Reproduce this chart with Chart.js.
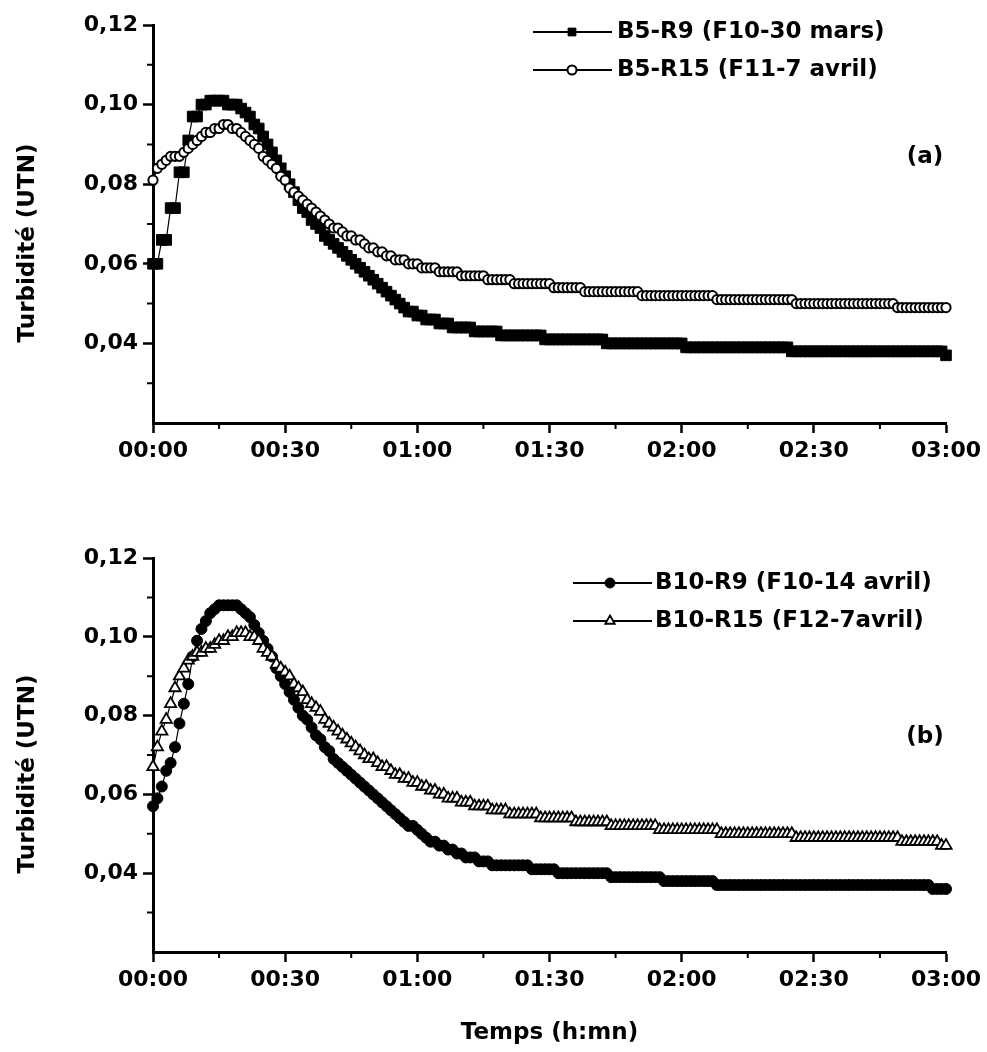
<!DOCTYPE html>
<html>
<head>
<meta charset="utf-8">
<script src="https://cdn.jsdelivr.net/npm/chart.js@4.4.1/dist/chart.umd.min.js"></script>
<style>
html,body{margin:0;padding:0;background:#fff;}
#wrap{position:relative;width:987px;height:1052px;background:#fff;overflow:hidden;}
.panel{position:absolute;left:0;width:987px;}
canvas{display:block;}
</style>
</head>
<body>
<div id="wrap">
  <div class="panel" style="top:0;height:500px"><canvas id="chartA" width="987" height="500"></canvas></div>
  <div class="panel" style="top:510px;height:542px"><canvas id="chartB" width="987" height="542"></canvas></div>
</div>
<script>
// ---------- data (time in minutes, turbidity in UTN) ----------
const timeMinutes = [
  0,1,2,3,4,5,6,7,8,9,
  10,11,12,13,14,15,16,17,18,19,
  20,21,22,23,24,25,26,27,28,29,
  30,31,32,33,34,35,36,37,38,39,
  40,41,42,43,44,45,46,47,48,49,
  50,51,52,53,54,55,56,57,58,59,
  60,61,62,63,64,65,66,67,68,69,
  70,71,72,73,74,75,76,77,78,79,
  80,81,82,83,84,85,86,87,88,89,
  90,91,92,93,94,95,96,97,98,99,
  100,101,102,103,104,105,106,107,108,109,
  110,111,112,113,114,115,116,117,118,119,
  120,121,122,123,124,125,126,127,128,129,
  130,131,132,133,134,135,136,137,138,139,
  140,141,142,143,144,145,146,147,148,149,
  150,151,152,153,154,155,156,157,158,159,
  160,161,162,163,164,165,166,167,168,169,
  170,171,172,173,174,175,176,177,178,179,
  180
];

const turbB5R9 = [
  0.060,0.060,0.066,0.066,0.074,0.074,0.083,0.083,0.091,0.097,
  0.097,0.100,0.100,0.101,0.101,0.101,0.101,0.100,0.100,0.100,
  0.099,0.098,0.097,0.095,0.094,0.092,0.090,0.088,0.086,0.084,
  0.082,0.080,0.078,0.076,0.074,0.073,0.071,0.070,0.069,0.067,
  0.066,0.065,0.064,0.063,0.062,0.061,0.060,0.059,0.058,0.057,
  0.056,0.055,0.054,0.053,0.052,0.051,0.050,0.049,0.048,0.048,
  0.047,0.047,0.046,0.046,0.046,0.045,0.045,0.045,0.044,0.044,
  0.044,0.044,0.044,0.043,0.043,0.043,0.043,0.043,0.043,0.042,
  0.042,0.042,0.042,0.042,0.042,0.042,0.042,0.042,0.042,0.041,
  0.041,0.041,0.041,0.041,0.041,0.041,0.041,0.041,0.041,0.041,
  0.041,0.041,0.041,0.040,0.040,0.040,0.040,0.040,0.040,0.040,
  0.040,0.040,0.040,0.040,0.040,0.040,0.040,0.040,0.040,0.040,
  0.040,0.039,0.039,0.039,0.039,0.039,0.039,0.039,0.039,0.039,
  0.039,0.039,0.039,0.039,0.039,0.039,0.039,0.039,0.039,0.039,
  0.039,0.039,0.039,0.039,0.039,0.038,0.038,0.038,0.038,0.038,
  0.038,0.038,0.038,0.038,0.038,0.038,0.038,0.038,0.038,0.038,
  0.038,0.038,0.038,0.038,0.038,0.038,0.038,0.038,0.038,0.038,
  0.038,0.038,0.038,0.038,0.038,0.038,0.038,0.038,0.038,0.038,
  0.037
];

const turbB5R15 = [
  0.081,0.084,0.085,0.086,0.087,0.087,0.087,0.088,0.089,0.090,
  0.091,0.092,0.093,0.093,0.094,0.094,0.095,0.095,0.094,0.094,
  0.093,0.092,0.091,0.090,0.089,0.087,0.086,0.085,0.084,0.082,
  0.081,0.079,0.078,0.077,0.076,0.075,0.074,0.073,0.072,0.071,
  0.070,0.069,0.069,0.068,0.067,0.067,0.066,0.066,0.065,0.064,
  0.064,0.063,0.063,0.062,0.062,0.061,0.061,0.061,0.060,0.060,
  0.060,0.059,0.059,0.059,0.059,0.058,0.058,0.058,0.058,0.058,
  0.057,0.057,0.057,0.057,0.057,0.057,0.056,0.056,0.056,0.056,
  0.056,0.056,0.055,0.055,0.055,0.055,0.055,0.055,0.055,0.055,
  0.055,0.054,0.054,0.054,0.054,0.054,0.054,0.054,0.053,0.053,
  0.053,0.053,0.053,0.053,0.053,0.053,0.053,0.053,0.053,0.053,
  0.053,0.052,0.052,0.052,0.052,0.052,0.052,0.052,0.052,0.052,
  0.052,0.052,0.052,0.052,0.052,0.052,0.052,0.052,0.051,0.051,
  0.051,0.051,0.051,0.051,0.051,0.051,0.051,0.051,0.051,0.051,
  0.051,0.051,0.051,0.051,0.051,0.051,0.050,0.050,0.050,0.050,
  0.050,0.050,0.050,0.050,0.050,0.050,0.050,0.050,0.050,0.050,
  0.050,0.050,0.050,0.050,0.050,0.050,0.050,0.050,0.050,0.049,
  0.049,0.049,0.049,0.049,0.049,0.049,0.049,0.049,0.049,0.049,
  0.049
];

const turbB10R9 = [
  0.057,0.059,0.062,0.066,0.068,0.072,0.078,0.083,0.088,0.095,
  0.099,0.102,0.104,0.106,0.107,0.108,0.108,0.108,0.108,0.108,
  0.107,0.106,0.105,0.103,0.101,0.099,0.097,0.095,0.092,0.090,
  0.088,0.086,0.084,0.082,0.080,0.079,0.077,0.075,0.074,0.072,
  0.071,0.069,0.068,0.067,0.066,0.065,0.064,0.063,0.062,0.061,
  0.060,0.059,0.058,0.057,0.056,0.055,0.054,0.053,0.052,0.052,
  0.051,0.050,0.049,0.048,0.048,0.047,0.047,0.046,0.046,0.045,
  0.045,0.044,0.044,0.044,0.043,0.043,0.043,0.042,0.042,0.042,
  0.042,0.042,0.042,0.042,0.042,0.042,0.041,0.041,0.041,0.041,
  0.041,0.041,0.040,0.040,0.040,0.040,0.040,0.040,0.040,0.040,
  0.040,0.040,0.040,0.040,0.039,0.039,0.039,0.039,0.039,0.039,
  0.039,0.039,0.039,0.039,0.039,0.039,0.038,0.038,0.038,0.038,
  0.038,0.038,0.038,0.038,0.038,0.038,0.038,0.038,0.037,0.037,
  0.037,0.037,0.037,0.037,0.037,0.037,0.037,0.037,0.037,0.037,
  0.037,0.037,0.037,0.037,0.037,0.037,0.037,0.037,0.037,0.037,
  0.037,0.037,0.037,0.037,0.037,0.037,0.037,0.037,0.037,0.037,
  0.037,0.037,0.037,0.037,0.037,0.037,0.037,0.037,0.037,0.037,
  0.037,0.037,0.037,0.037,0.037,0.037,0.037,0.036,0.036,0.036,
  0.036
];

const turbB10R15 = [
  0.067,0.072,0.076,0.079,0.083,0.087,0.090,0.092,0.094,0.095,
  0.096,0.096,0.097,0.097,0.098,0.099,0.099,0.100,0.100,0.101,
  0.101,0.101,0.100,0.100,0.099,0.097,0.096,0.095,0.093,0.092,
  0.091,0.090,0.088,0.087,0.086,0.084,0.083,0.082,0.081,0.079,
  0.078,0.077,0.076,0.075,0.074,0.073,0.072,0.071,0.070,0.069,
  0.069,0.068,0.067,0.067,0.066,0.065,0.065,0.064,0.064,0.063,
  0.063,0.062,0.062,0.061,0.061,0.060,0.060,0.059,0.059,0.059,
  0.058,0.058,0.058,0.057,0.057,0.057,0.057,0.056,0.056,0.056,
  0.056,0.055,0.055,0.055,0.055,0.055,0.055,0.055,0.054,0.054,
  0.054,0.054,0.054,0.054,0.054,0.054,0.053,0.053,0.053,0.053,
  0.053,0.053,0.053,0.053,0.052,0.052,0.052,0.052,0.052,0.052,
  0.052,0.052,0.052,0.052,0.052,0.051,0.051,0.051,0.051,0.051,
  0.051,0.051,0.051,0.051,0.051,0.051,0.051,0.051,0.051,0.050,
  0.050,0.050,0.050,0.050,0.050,0.050,0.050,0.050,0.050,0.050,
  0.050,0.050,0.050,0.050,0.050,0.050,0.049,0.049,0.049,0.049,
  0.049,0.049,0.049,0.049,0.049,0.049,0.049,0.049,0.049,0.049,
  0.049,0.049,0.049,0.049,0.049,0.049,0.049,0.049,0.049,0.049,
  0.048,0.048,0.048,0.048,0.048,0.048,0.048,0.048,0.048,0.047,
  0.047
];

const seriesLabelsA = ['B5-R9 (F10-30 mars)', 'B5-R15 (F11-7 avril)'];
const seriesLabelsB = ['B10-R9 (F10-14 avril)', 'B10-R15 (F12-7avril)'];
const panelLabels = ['(a)', '(b)'];
const xTickLabels = ['00:00', '00:30', '01:00', '01:30', '02:00', '02:30', '03:00'];
const yTickLabels = ['', '0,04', '0,06', '0,08', '0,10', '0,12'];
const xMinorTicks = [15, 45, 75, 105, 135, 165];
const yMinorTicks = [0.03, 0.05, 0.07, 0.09, 0.11];
const yAxisTitle = 'Turbidité (UTN)';
const xAxisTitle = 'Temps (h:mn)';

// ---------- styling helpers ----------
const FONT = '"DejaVu Sans", "Liberation Sans", sans-serif';
Chart.defaults.font.family = FONT;
Chart.defaults.font.weight = 'bold';
Chart.defaults.color = '#000';

const minorTicksPlugin = {
  id: 'minorTicks',
  beforeDatasetsDraw(chart) {
    const ctx = chart.ctx, xs = chart.scales.x, ys = chart.scales.y;
    ctx.save();
    ctx.strokeStyle = '#000';
    ctx.lineWidth = 2;
    ctx.beginPath();
    xMinorTicks.forEach(v => {
      const px = xs.getPixelForValue(v);
      ctx.moveTo(px, ys.bottom);
      ctx.lineTo(px, ys.bottom + 6);
    });
    yMinorTicks.forEach(v => {
      const py = ys.getPixelForValue(v);
      ctx.moveTo(xs.left, py);
      ctx.lineTo(xs.left - 6, py);
    });
    ctx.stroke();
    ctx.restore();
  }
};

// shifts the (built-in) y-axis title a little below the axis centre, as in the original figure
const titleShiftPlugin = {
  id: 'titleShift',
  afterLayout(chart, args, opts) {
    const s = chart.scales.y;
    if (!s || s._titleShifted) return;
    const orig = s.drawTitle;
    s.drawTitle = function () {
      const ctx = this.ctx;
      ctx.save();
      ctx.translate(0, opts.dy);
      orig.call(this);
      ctx.restore();
    };
    s._titleShifted = true;
  }
};

const legendRowsPlugin = {
  id: 'legendRows',
  afterDraw(chart, args, opts) {
    const ctx = chart.ctx;
    ctx.save();
    chart.data.datasets.forEach((ds, i) => {
      const y = opts.top + i * opts.gap;
      ctx.strokeStyle = '#000';
      ctx.lineWidth = 2;
      ctx.beginPath();
      ctx.moveTo(opts.lineStart, y);
      ctx.lineTo(opts.lineEnd, y);
      ctx.stroke();
      ctx.fillStyle = ds.pointBackgroundColor;
      ctx.strokeStyle = ds.pointBorderColor;
      ctx.lineWidth = ds.pointBorderWidth;
      Chart.helpers.drawPoint(ctx, {
        pointStyle: ds.pointStyle,
        radius: opts.markerRadius[i],
        rotation: 0,
        borderWidth: ds.pointBorderWidth
      }, opts.marker, y);
      ctx.fillStyle = '#000';
      ctx.font = 'bold 23px ' + FONT;
      ctx.textAlign = 'left';
      ctx.textBaseline = 'middle';
      ctx.fillText(ds.label, opts.textX, y);
    });
    ctx.restore();
  }
};

const panelLabelPlugin = {
  id: 'panelLabel',
  afterDraw(chart, args, opts) {
    const ctx = chart.ctx;
    ctx.save();
    ctx.fillStyle = '#000';
    ctx.font = 'bold 23px ' + FONT;
    ctx.textAlign = 'center';
    ctx.textBaseline = 'middle';
    ctx.fillText(opts.text, opts.x, opts.y);
    ctx.restore();
  }
};

function isHiddenY(v) { return Math.abs(v - 0.02) < 1e-9; }

function makeOptions(cfg) {
  return {
    responsive: false,
    maintainAspectRatio: false,
    devicePixelRatio: 1,
    animation: false,
    events: [],
    layout: { padding: { left: 0, right: 41, top: cfg.padTop, bottom: 0 } },
    plugins: {
      legend: { display: false },
      tooltip: { enabled: false },
      legendRows: cfg.legend,
      panelLabel: cfg.panel,
      titleShift: { dy: 19 }
    },
    scales: {
      x: {
        type: 'linear',
        min: 0, max: 180,
        border: { display: true, color: '#000', width: 3 },
        grid: { display: true, drawOnChartArea: false, drawTicks: true, tickLength: 10, tickWidth: 2.5, tickColor: '#000' },
        ticks: {
          stepSize: 30, autoSkip: false, maxRotation: 0, padding: 5,
          font: { size: 22, weight: 'bold' }, color: '#000',
          callback: (v, i) => xTickLabels[i]
        },
        title: {
          display: cfg.showXTitle, text: xAxisTitle, color: '#000',
          font: { size: 23, weight: 'bold' }, padding: { top: 0, bottom: 5 }
        },
        afterFit: s => { s.height = cfg.xHeight; }
      },
      y: {
        type: 'linear',
        min: 0.02, max: 0.12,
        border: { display: true, color: '#000', width: 3 },
        grid: {
          display: true, drawOnChartArea: false, drawTicks: true, tickLength: 10, tickWidth: 2.5,
          tickColor: c => (c.tick && isHiddenY(c.tick.value)) ? 'rgba(0,0,0,0)' : '#000'
        },
        ticks: {
          stepSize: 0.02, autoSkip: false, padding: 5,
          font: { size: 22, weight: 'bold' }, color: '#000',
          callback: (v, i) => yTickLabels[i]
        },
        title: {
          display: true, text: yAxisTitle, color: '#000',
          font: { size: 23, weight: 'bold' }, padding: { top: 14, bottom: 0 }
        },
        afterFit: s => { s.width = 153; }
      }
    }
  };
}

function lineDataset(label, values, order, style) {
  return Object.assign({
    label: label,
    data: values,
    order: order,
    showLine: true,
    borderColor: '#000',
    borderWidth: 1.2,
    tension: 0,
    fill: false,
    clip: false,
    pointBorderColor: '#000'
  }, style);
}

// ---------- chart (a) ----------
new Chart(document.getElementById('chartA'), {
  type: 'line',
  data: {
    labels: timeMinutes,
    datasets: [
      lineDataset(seriesLabelsA[0], turbB5R9, 1, {
        pointStyle: 'rect', pointRadius: 7.5, pointBackgroundColor: '#000', pointBorderWidth: 1
      }),
      lineDataset(seriesLabelsA[1], turbB5R15, 0, {
        pointStyle: 'circle', pointRadius: 4.6, pointBackgroundColor: '#fff', pointBorderWidth: 2
      })
    ]
  },
  options: makeOptions({
    padTop: 25, xHeight: 77, showXTitle: false,
    legend: { top: 32, gap: 38, lineStart: 533, lineEnd: 612, marker: 572, textX: 617, markerRadius: [5.5, 4.5] },
    panel: { text: panelLabels[0], x: 925, y: 157 }
  }),
  plugins: [titleShiftPlugin, minorTicksPlugin, legendRowsPlugin, panelLabelPlugin]
});

// ---------- chart (b) ----------
new Chart(document.getElementById('chartB'), {
  type: 'line',
  data: {
    labels: timeMinutes,
    datasets: [
      lineDataset(seriesLabelsB[0], turbB10R9, 1, {
        pointStyle: 'circle', pointRadius: 5.5, pointBackgroundColor: '#000', pointBorderWidth: 1
      }),
      lineDataset(seriesLabelsB[1], turbB10R15, 0, {
        pointStyle: 'triangle', pointRadius: 6.5, pointBackgroundColor: '#fff', pointBorderWidth: 1.8
      })
    ]
  },
  options: makeOptions({
    padTop: 48, xHeight: 100, showXTitle: true,
    legend: { top: 73, gap: 38, lineStart: 573, lineEnd: 652, marker: 610, textX: 655, markerRadius: [5, 5.5] },
    panel: { text: panelLabels[1], x: 925, y: 227 }
  }),
  plugins: [titleShiftPlugin, minorTicksPlugin, legendRowsPlugin, panelLabelPlugin]
});
</script>
</body>
</html>
